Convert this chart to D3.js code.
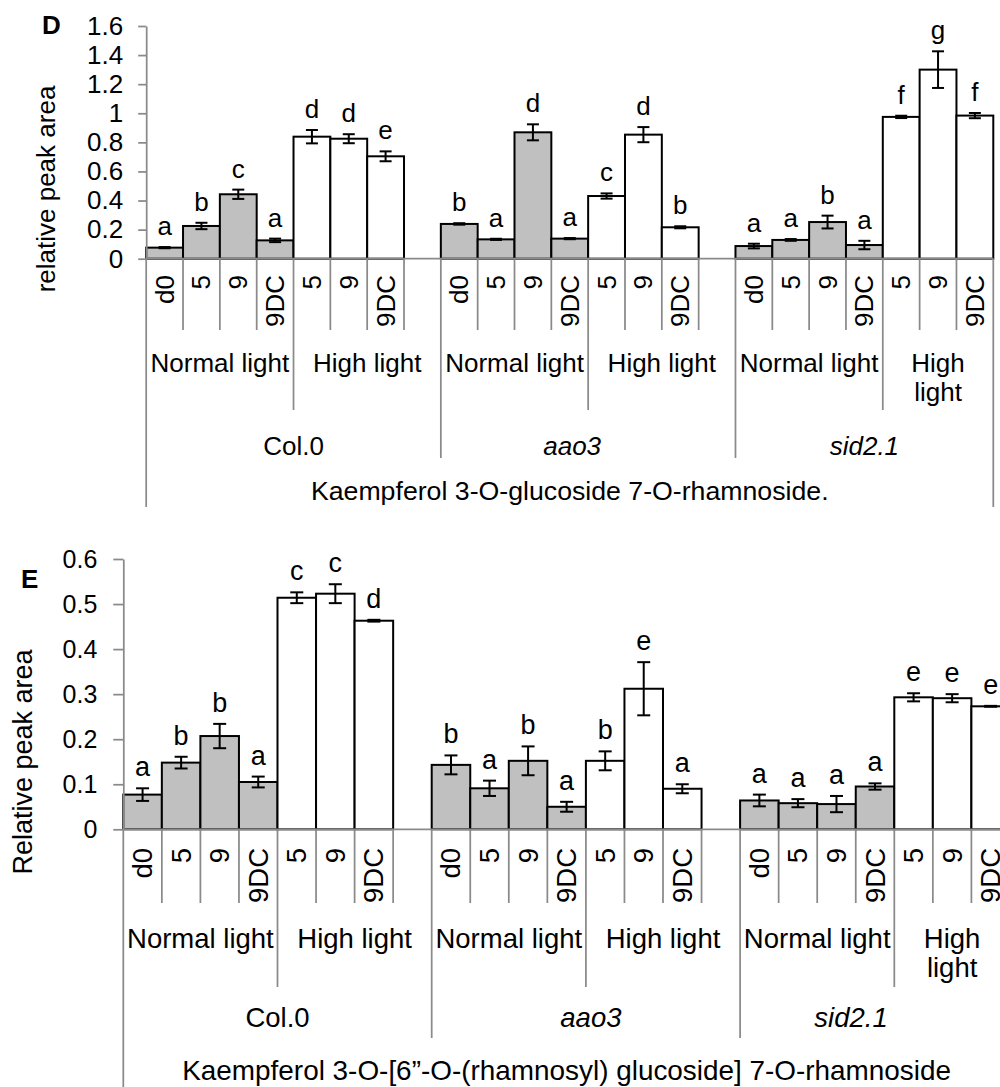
<!DOCTYPE html>
<html><head><meta charset="utf-8">
<script src="https://cdn.jsdelivr.net/npm/d3@7"></script>
<style>body{margin:0;overflow:hidden;background:#fff}svg{display:block}</style>
</head><body><svg id="chart" width="1000" height="1087"></svg>
<script>
// ---------- data ----------
const conditions = ["d0", "5", "9", "9DC", "5", "9", "9DC"];
const lightOfCondition = ["Normal light", "Normal light", "Normal light", "Normal light", "High light", "High light", "High light"];
const lightGroups = ["Normal light", "High light"];
const genotypes = ["Col.0", "aao3", "sid2.1"];

const tickValuesD = [0, 0.2, 0.4, 0.6, 0.8, 1, 1.2, 1.4, 1.6];
const tickLabelsD = ["0", "0.2", "0.4", "0.6", "0.8", "1", "1.2", "1.4", "1.6"];
const tickValuesE = [0, 0.1, 0.2, 0.3, 0.4, 0.5, 0.6];
const tickLabelsE = ["0", "0.1", "0.2", "0.3", "0.4", "0.5", "0.6"];

// Panel D: Kaempferol 3-O-glucoside 7-O-rhamnoside
const dValuesCol0 = [0.076, 0.225, 0.443, 0.126, 0.839, 0.825, 0.704];
const dErrorsCol0 = [0.004, 0.022, 0.032, 0.012, 0.046, 0.031, 0.034];
const dLettersCol0 = ["a", "b", "c", "a", "d", "d", "e"];
const dValuesAao3 = [0.239, 0.133, 0.869, 0.138, 0.431, 0.853, 0.216];
const dErrorsAao3 = [0.005, 0.004, 0.055, 0.004, 0.018, 0.052, 0.007];
const dLettersAao3 = ["b", "a", "d", "a", "c", "d", "b"];
const dValuesSid = [0.087, 0.129, 0.252, 0.094, 0.975, 1.30, 0.984];
const dErrorsSid = [0.016, 0.006, 0.044, 0.029, 0.008, 0.126, 0.018];
const dLettersSid = ["a", "a", "b", "a", "f", "g", "f"];

// Panel E: Kaempferol 3-O-[6"-O-(rhamnosyl) glucoside] 7-O-rhamnoside
const eValuesCol0 = [0.077, 0.148, 0.207, 0.105, 0.514, 0.523, 0.463];
const eErrorsCol0 = [0.014, 0.013, 0.027, 0.012, 0.012, 0.021, 0.002];
const eLettersCol0 = ["a", "b", "b", "a", "c", "c", "d"];
const eValuesAao3 = [0.143, 0.091, 0.152, 0.050, 0.152, 0.312, 0.090];
const eErrorsAao3 = [0.021, 0.017, 0.032, 0.011, 0.021, 0.059, 0.010];
const eLettersAao3 = ["b", "a", "b", "a", "b", "e", "a"];
const eValuesSid = [0.064, 0.058, 0.056, 0.095, 0.293, 0.291, 0.273];
const eErrorsSid = [0.013, 0.009, 0.018, 0.007, 0.009, 0.009, 0.001];
const eLettersSid = ["a", "a", "a", "a", "e", "e", "e"];

const titleD = "Kaempferol 3-O-glucoside 7-O-rhamnoside.";
const titleE = "Kaempferol 3-O-[6\u201D-O-(rhamnosyl) glucoside] 7-O-rhamnoside";

// ---------- layout ----------
const FONT = "'Liberation Sans', Arial, Helvetica, sans-serif";
const AXIS = "#8a8a8a";
const GREY = "#c0c0c0";

const layoutD = {
  panel: "D", panelX: 42, panelY: 34, panelSize: 26,
  x0: 146.2, slot: 36.83, y0: 258.7, yTop: 26, yMax: 1.6,
  tickSize: 8, tickPad: 15, tickFont: 26, font: 26, letterFont: 26, titleFont: 26.7,
  yTitle: "relative peak area", yTitleX: 55, yTitleY: 189, yTitleFont: 26,
  lvl1Bottom: 330, lvl2Bottom: 410, lvl3Bottom: 458, lvl4Bottom: 507,
  catTop: 275, lvl2Base: 372, lvl2Gap: 28.5, lvl3Base: 455, titleBase: 500,
  genoDx: [0, -16, 0], cap: 6, letterGap: 12,
  ticks: tickValuesD, tickLabels: tickLabelsD, title: titleD,
  values: [dValuesCol0, dValuesAao3, dValuesSid],
  errors: [dErrorsCol0, dErrorsAao3, dErrorsSid],
  letters: [dLettersCol0, dLettersAao3, dLettersSid]
};
const layoutE = {
  panel: "E", panelX: 21, panelY: 588, panelSize: 26,
  x0: 123.3, slot: 38.55, y0: 829.3, yTop: 559, yMax: 0.6,
  tickSize: 10, tickPad: 16, tickFont: 25, font: 27.5, letterFont: 27, titleFont: 27.9,
  yTitle: "Relative peak area", yTitleX: 32, yTitleY: 762, yTitleFont: 27,
  lvl1Bottom: 903, lvl2Bottom: 987, lvl3Bottom: 1038, lvl4Bottom: 1090,
  catTop: 848, lvl2Base: 948, lvl2Gap: 29, lvl3Base: 1027, titleBase: 1080,
  genoDx: [0, 5, -24], cap: 6.5, letterGap: 12,
  ticks: tickValuesE, tickLabels: tickLabelsE, title: titleE,
  values: [eValuesCol0, eValuesAao3, eValuesSid],
  errors: [eErrorsCol0, eErrorsAao3, eErrorsSid],
  letters: [eLettersCol0, eLettersAao3, eLettersSid]
};

const svg = d3.select("#chart");

function drawPanel(L) {
  const g = svg.append("g");
  // slot keys: 7 bars per genotype, a blank slot after the first two genotypes
  const keys = [];
  genotypes.forEach((gname, gi) => {
    conditions.forEach((c, i) => keys.push(gi + "-" + i));
    if (gi < genotypes.length - 1) keys.push(gi + "-gap");
  });
  const nSlots = keys.length;
  const x = d3.scaleBand().domain(keys).range([L.x0, L.x0 + nSlots * L.slot]).padding(0);
  const y = d3.scaleLinear().domain([0, L.yMax]).range([L.y0, L.yTop]);
  const slotX = k => L.x0 + k * L.slot;

  const bars = [];
  genotypes.forEach((gname, gi) => {
    conditions.forEach((c, i) => {
      bars.push({ key: gi + "-" + i, v: L.values[gi][i], e: L.errors[gi][i], l: L.letters[gi][i], light: lightOfCondition[i] });
    });
  });

  // bars
  g.append("g").selectAll("rect").data(bars).join("rect")
    .attr("x", d => x(d.key)).attr("width", x.bandwidth())
    .attr("y", d => y(d.v)).attr("height", d => y(0) - y(d.v))
    .attr("fill", d => d.light === lightGroups[0] ? GREY : "#ffffff")
    .attr("stroke", "#000").attr("stroke-width", 2);

  // error bars
  const eb = g.append("g").attr("stroke", "#000").attr("stroke-width", 2);
  bars.forEach(d => {
    const cx = x(d.key) + x.bandwidth() / 2;
    eb.append("line").attr("x1", cx).attr("x2", cx).attr("y1", y(d.v - d.e)).attr("y2", y(d.v + d.e));
    eb.append("line").attr("x1", cx - L.cap).attr("x2", cx + L.cap).attr("y1", y(d.v - d.e)).attr("y2", y(d.v - d.e));
    eb.append("line").attr("x1", cx - L.cap).attr("x2", cx + L.cap).attr("y1", y(d.v + d.e)).attr("y2", y(d.v + d.e));
  });

  // significance letters
  g.append("g").selectAll("text").data(bars).join("text")
    .attr("x", d => x(d.key) + x.bandwidth() / 2)
    .attr("y", d => y(d.v + d.e) - L.letterGap)
    .attr("text-anchor", "middle").attr("font-family", FONT).attr("font-size", L.letterFont)
    .attr("fill", "#000").text(d => d.l);

  // value axis
  const ax = g.append("g").attr("transform", `translate(${L.x0},0)`)
    .call(d3.axisLeft(y).tickValues(L.ticks).tickFormat((d, i) => L.tickLabels[i])
      .tickSize(L.tickSize).tickSizeOuter(0).tickPadding(L.tickPad));
  ax.select(".domain").attr("stroke", AXIS).attr("stroke-width", 1.75);
  ax.selectAll(".tick line").attr("stroke", AXIS).attr("stroke-width", 1.75);
  ax.selectAll(".tick text").attr("font-family", FONT).attr("font-size", L.tickFont).attr("fill", "#000");

  // category axis baseline
  g.append("line").attr("x1", L.x0).attr("x2", slotX(nSlots)).attr("y1", L.y0).attr("y2", L.y0)
    .attr("stroke", AXIS).attr("stroke-width", 1.75);

  // group boundaries
  const genoStarts = genotypes.map((_, gi) => keys.indexOf(gi + "-0"));
  const genoEnds = genotypes.map((_, gi) => gi < genotypes.length - 1 ? genoStarts[gi + 1] : nSlots);
  const lightSpans = [];
  genotypes.forEach((_, gi) => lightGroups.forEach((lg, li) => {
    lightSpans.push({ gi, li,
      start: genoStarts[gi] + lightOfCondition.indexOf(lg),
      end: li === 0 ? genoStarts[gi] + lightOfCondition.indexOf(lightGroups[1]) : genoEnds[gi] });
  }));
  const lines = g.append("g").attr("stroke", AXIS).attr("stroke-width", 1.75);
  for (let k = 0; k <= nSlots; k++) {
    let bottom = L.lvl1Bottom;
    if (k === 0 || k === nSlots) bottom = L.lvl4Bottom;
    else if (genoStarts.includes(k)) bottom = L.lvl3Bottom;
    else if (lightSpans.some(s => s.start === k)) bottom = L.lvl2Bottom;
    lines.append("line").attr("x1", slotX(k)).attr("x2", slotX(k)).attr("y1", L.y0).attr("y2", bottom);
  }

  // level 1 labels (rotated)
  g.append("g").selectAll("text").data(bars).join("text")
    .attr("transform", d => `translate(${x(d.key) + x.bandwidth() / 2},${L.catTop}) rotate(-90)`)
    .attr("text-anchor", "end").attr("dominant-baseline", "central")
    .attr("font-family", FONT).attr("font-size", L.font).attr("fill", "#000")
    .text(d => conditions[+d.key.split("-")[1]]);

  // level 2 labels (light); groups narrower than four slots wrap onto two lines
  lightSpans.forEach(s => {
    const cx = (slotX(s.start) + slotX(s.end)) / 2;
    const label = lightGroups[s.li];
    const t = g.append("text").attr("x", cx).attr("y", L.lvl2Base).attr("text-anchor", "middle")
      .attr("font-family", FONT).attr("font-size", L.font).attr("fill", "#000");
    if (s.end - s.start < 4) {
      label.split(" ").forEach((word, wi) => {
        t.append("tspan").attr("x", cx).attr("y", L.lvl2Base + wi * L.lvl2Gap).text(word);
      });
    } else {
      t.text(label);
    }
  });

  // level 3 labels (genotype)
  genotypes.forEach((gname, gi) => {
    const cx = (slotX(genoStarts[gi]) + slotX(genoEnds[gi])) / 2 + L.genoDx[gi];
    g.append("text").attr("x", cx).attr("y", L.lvl3Base).attr("text-anchor", "middle")
      .attr("font-family", FONT).attr("font-size", L.font).attr("fill", "#000")
      .attr("font-style", gi === 0 ? "normal" : "italic").text(gname);
  });

  // level 4 (compound title)
  g.append("text").attr("x", (slotX(0) + slotX(nSlots)) / 2).attr("y", L.titleBase)
    .attr("text-anchor", "middle").attr("font-family", FONT).attr("font-size", L.titleFont)
    .attr("fill", "#000").text(L.title);

  // y title
  g.append("text").attr("transform", `translate(${L.yTitleX},${L.yTitleY}) rotate(-90)`)
    .attr("text-anchor", "middle").attr("font-family", FONT).attr("font-size", L.yTitleFont)
    .attr("fill", "#000").text(L.yTitle);

  // panel letter
  g.append("text").attr("x", L.panelX).attr("y", L.panelY).attr("font-family", FONT)
    .attr("font-weight", "bold").attr("font-size", L.panelSize).attr("fill", "#000").text(L.panel);
}

drawPanel(layoutD);
drawPanel(layoutE);
</script>
</body></html>
